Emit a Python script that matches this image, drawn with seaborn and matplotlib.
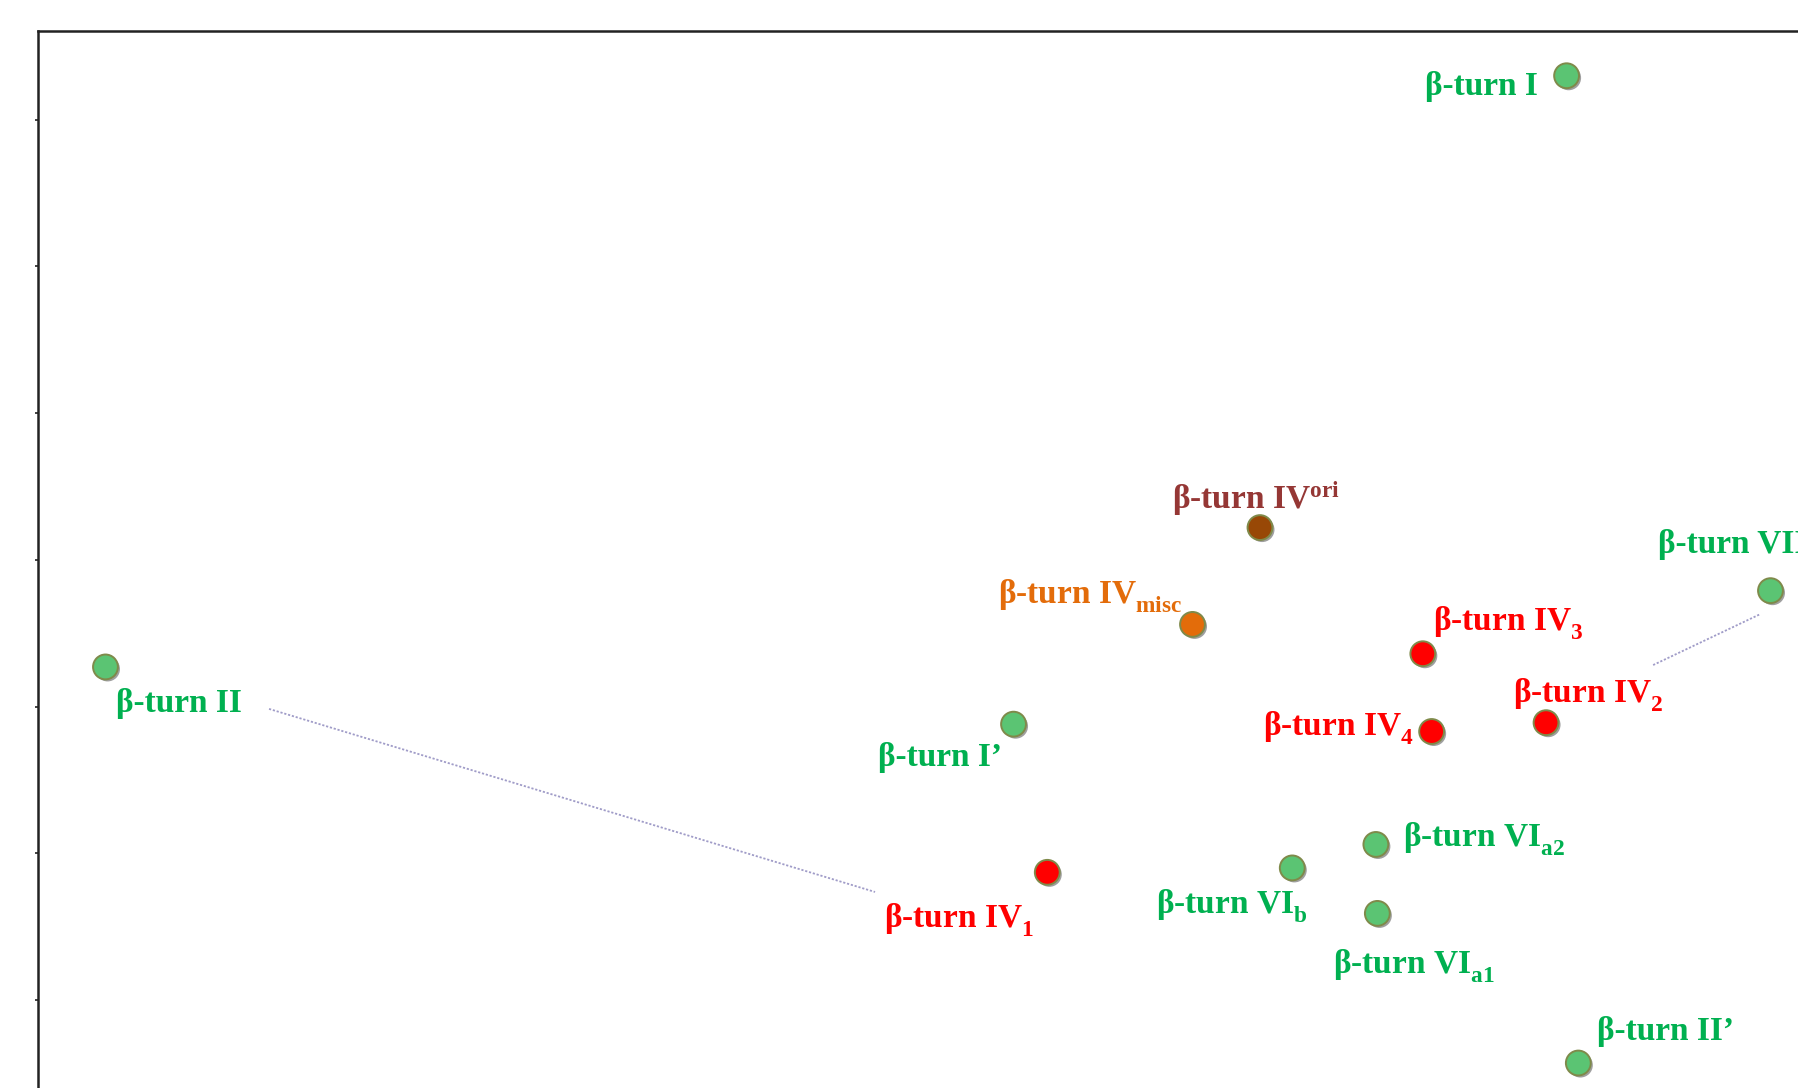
import matplotlib
matplotlib.use("Agg")
import matplotlib.pyplot as plt
import matplotlib.patheffects as pe
import matplotlib._mathtext as mtext
import pandas as pd
import seaborn as sns

# beta-turn types placed on a 2D map (ticks carry no labels in the source)
names = ["I", "IVori", "VIII", "IVmisc", "IV3", "II", "I'", "IV2", "IV4",
         "VIa2", "IV1", "VIb", "VIa1", "II'"]
xs = [10.42, 8.33, 11.81, 7.87, 9.44, 0.46, 6.65, 10.28, 9.50,
      9.12, 6.88, 8.55, 9.13, 10.50]
ys = [3.30, 0.22, -0.21, -0.44, -0.64, -0.73, -1.12, -1.11, -1.17,
      -1.94, -2.13, -2.10, -2.41, -3.43]
groups = ["classic", "ori", "classic", "misc", "IV", "classic", "classic", "IV", "IV",
          "classic", "IV", "classic", "classic", "classic"]
labels = ["β-turn I", r"β-turn IV$^{\mathrm{ori}}$", "β-turn VIII",
          r"β-turn IV$_{\mathrm{misc}}$", r"β-turn IV$_{\mathrm{3}}$", "β-turn II",
          "β-turn I’", r"β-turn IV$_{\mathrm{2}}$", r"β-turn IV$_{\mathrm{4}}$",
          r"β-turn VI$_{\mathrm{a2}}$", r"β-turn IV$_{\mathrm{1}}$",
          r"β-turn VI$_{\mathrm{b}}$", r"β-turn VI$_{\mathrm{a1}}$", "β-turn II’"]
# dotted connectors (pairs of points)
link_x = [[1.575, 5.706], [11.01, 11.74]]
link_y = [[-1.016, -2.264], [-0.717, -0.37]]

dot_colors = {"classic": "#5bc473", "IV": "#ff0000", "misc": "#e36c0a", "ori": "#984806"}
text_colors = {"classic": "#00b050", "IV": "#ff0000", "misc": "#e36c0a", "ori": "#953735"}

# label offsets in pixels from the dot, and alignment
offsets = [(-29, -19, "right"), (-88, 19, "left"), (-112, 38, "left"),
           (-10, 21, "right"), (10, 23, "left"), (11, -45, "left"),
           (-12, -42, "right"), (-33, 20, "left"), (-18, -4, "right"),
           (27, -2, "left"), (-13, -55, "right"), (-136, -45, "left"),
           (-44, -60, "left"), (19, 23, "left")]

df = pd.DataFrame({"x": xs, "y": ys, "group": groups})

sns.set_style("white")
plt.rcParams["font.family"] = ["Liberation Serif", "DejaVu Serif"]
plt.rcParams["mathtext.fontset"] = "custom"
plt.rcParams["mathtext.rm"] = "Liberation Serif:bold"
plt.rcParams["mathtext.it"] = "Liberation Serif:bold"
plt.rcParams["mathtext.bf"] = "Liberation Serif:bold"
# subscripts sit lower in the source figure
mtext.FontConstantsBase.sub1 = 0.6

fig = plt.figure(figsize=(17.99, 10.88), dpi=100)
ax = fig.add_axes([0.02112, -0.0539, 1.0193, 1.0254])

for lx, ly in zip(link_x, link_y):
    ax.plot(lx, ly, color="#a09cc8", lw=1.3, ls=(0, (1.2, 1.0)), zorder=1)

sns.scatterplot(data=df, x="x", y="y", hue="group", palette=dot_colors,
                s=320, edgecolor="#7f8a4a", linewidth=1.4, legend=False,
                ax=ax, zorder=3)
for coll in ax.collections:
    coll.set_path_effects([pe.SimplePatchShadow(offset=(1.5, -1.5), shadow_rgbFace="#777777", alpha=0.7),
                           pe.Normal()])

for x, y, g, lab, (dx, dy, ha) in zip(xs, ys, groups, labels, offsets):
    ax.annotate(lab, (x, y), xytext=(dx, dy), textcoords="offset pixels",
                ha=ha, va="baseline", fontsize=24, fontweight="bold",
                color=text_colors[g], zorder=4)

ax.set_xlim(0, 12.5)
ax.set_ylim(-4.0, 3.605)
ax.set_yticks([-3, -2, -1, 0, 1, 2, 3])
ax.set_yticklabels([])
ax.set_xticks([])
ax.set_xlabel("")
ax.set_ylabel("")
ax.tick_params(axis="y", left=True, length=2.5, width=1.2, color="#222222", direction="out")
for side in ["left", "top", "right", "bottom"]:
    ax.spines[side].set_color("#222222")
    ax.spines[side].set_linewidth(1.8)

fig.savefig("out.png", dpi=100)
